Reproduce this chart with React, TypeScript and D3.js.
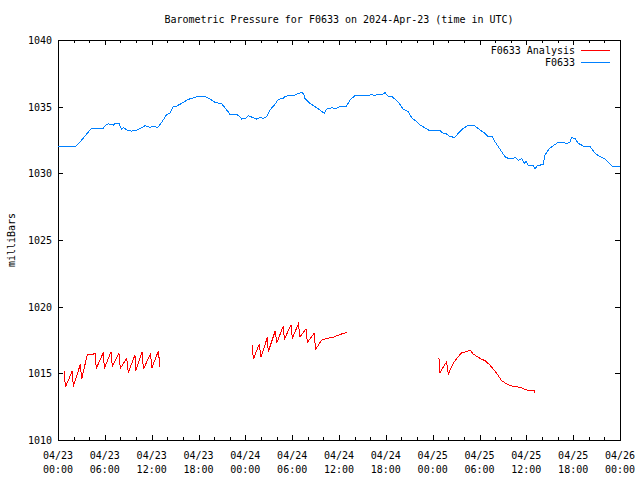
import React, { useEffect, useRef } from "react";
import * as d3 from "d3";

// hours since 2024-04-23 00:00 UTC
const blueHours = [0,2.18,3.04,3.88,4.32,5.8,6.02,6.44,7.08,7.3,7.81,8.16,8.39,8.8,9.44,10.08,10.72,11.15,11.79,12.21,12.77,13.28,13.93,14.35,14.77,15.21,15.85,16.69,17.13,17.97,18.83,19.47,20.11,20.97,21.61,21.82,22.03,23.1,23.53,23.96,24.38,24.81,25.45,25.88,26.3,26.74,27.16,27.8,28.22,28.86,29.08,29.5,30.27,30.58,31.22,31.45,31.64,32.28,32.92,33.56,34.11,34.42,35.06,35.49,36.13,36.98,37.41,38.05,39.75,40.19,40.61,41.03,41.67,41.89,42.24,42.75,43.39,43.81,44.24,44.88,45.31,45.95,46.37,47.01,47.66,48.3,48.94,49.36,49.79,50.22,50.86,51.28,51.92,52.56,53.0,53.42,54.06,54.7,55.13,55.56,55.98,56.62,57.26,57.69,58.33,58.55,58.97,59.4,59.74,59.95,60.25,60.89,61.11,61.37,61.75,62.17,62.39,62.81,63.25,64.09,64.73,65.17,65.59,65.81,66.24,66.66,67.3,68.16,68.38,68.8,69.44,70.08,70.51,70.94,71.58,72.0];
const bluePressure = [1032.03,1031.98,1032.5,1033.1,1033.4,1033.4,1033.57,1033.72,1033.62,1033.75,1033.75,1033.3,1033.45,1033.25,1033.17,1033.25,1033.42,1033.57,1033.45,1033.52,1033.45,1033.82,1034.42,1034.5,1035.0,1035.05,1035.25,1035.55,1035.62,1035.77,1035.75,1035.57,1035.32,1035.22,1034.75,1034.6,1034.42,1034.37,1034.07,1034.1,1034.32,1034.22,1034.07,1034.2,1034.12,1034.25,1034.75,1035.18,1035.55,1035.62,1035.75,1035.83,1035.83,1035.95,1036.07,1035.98,1035.62,1035.25,1035.0,1034.75,1034.5,1034.82,1034.92,1034.85,1035.0,1035.05,1035.5,1035.83,1035.85,1035.9,1035.85,1035.93,1035.95,1036.07,1035.8,1035.78,1035.45,1035.18,1034.8,1034.63,1034.17,1033.87,1033.62,1033.42,1033.17,1033.25,1033.2,1033.0,1032.95,1032.75,1032.7,1033.0,1033.37,1033.6,1033.62,1033.55,1033.25,1033.0,1032.75,1032.8,1032.37,1031.82,1031.25,1031.12,1031.1,1031.2,1030.98,1031.1,1030.75,1030.9,1030.57,1030.6,1030.32,1030.55,1030.62,1030.65,1031.37,1031.75,1032.0,1032.32,1032.32,1032.22,1032.35,1032.67,1032.6,1032.25,1032.05,1032.0,1031.85,1031.5,1031.25,1031.07,1030.82,1030.55,1030.5,1030.5];

// null entries mark gaps between analysis runs
const redHours = [0.81,0.94,1.84,1.96,2.86,3.03,3.76,4.23,4.74,4.91,5.81,5.94,6.79,6.96,7.81,7.98,8.8,9.01,9.86,9.95,10.8,10.93,11.87,12.0,12.85,13.07,null,24.9,25.02,25.79,26.0,26.82,26.94,27.84,28.01,28.87,28.99,29.85,30.02,30.79,31.0,31.77,31.94,32.8,33.01,33.78,34.42,35.27,36.13,37.07,null,48.81,48.94,49.79,50.0,50.64,51.28,51.71,52.35,52.78,53.2,54.06,54.7,55.34,56.2,56.84,57.48,58.12,59.18,60.04,61.02,61.1];
const redPressure = [1015.18,1013.95,1015.2,1014.0,1015.67,1014.55,1016.42,1016.37,1016.5,1015.37,1016.57,1015.37,1016.62,1015.5,1016.5,1015.37,1016.12,1015.07,1016.37,1015.2,1016.62,1015.3,1016.5,1015.37,1016.67,1015.5,null,1017.12,1016.05,1017.2,1016.2,1017.7,1016.62,1018.2,1017.25,1018.55,1017.55,1018.62,1017.62,1018.7,1017.75,1018.32,1017.32,1018.0,1016.8,1017.5,1017.62,1017.7,1017.92,1018.07,null,1016.12,1015.07,1015.87,1014.95,1015.75,1016.25,1016.55,1016.62,1016.75,1016.45,1016.12,1015.95,1015.62,1015.0,1014.45,1014.2,1014.05,1013.95,1013.75,1013.7,1013.57];

const yTicks = [1010, 1015, 1020, 1025, 1030, 1035, 1040];
const xTickHours = [0, 6, 12, 18, 24, 30, 36, 42, 48, 54, 60, 66, 72];
const seriesNames = ["F0633 Analysis", "F0633"];
const seriesColors = ["#ff0000", "#0080ff"];
const title = "Barometric Pressure for F0633 on 2024-Apr-23 (time in UTC)";
const yLabel = "milliBars";

const W = 640, H = 480;
const M = { left: 58, right: 620, top: 40, bottom: 440 };
const FONT = "'DejaVu Sans Mono', monospace";

export default function App() {
  const ref = useRef<SVGSVGElement | null>(null);
  useEffect(() => {
    document.body.style.margin = "0";
    const svg = d3.select(ref.current);
    svg.selectAll("*").remove();
    const t0 = Date.UTC(2024, 3, 23, 0, 0);
    const toDate = (h: number) => new Date(t0 + h * 3600000);
    const x = d3.scaleUtc().domain([toDate(0), toDate(72)]).range([M.left, M.right]);
    const y = d3.scaleLinear().domain([1010, 1040]).range([M.bottom, M.top]);

    svg.append("rect").attr("width", W).attr("height", H).attr("fill", "#fff");

    const g = svg.append("g").attr("shape-rendering", "crispEdges");
    yTicks.forEach((v) => {
      const yy = Math.round(y(v)) + 0.5;
      g.append("line").attr("x1", M.left).attr("x2", M.left + 5).attr("y1", yy).attr("y2", yy).attr("stroke", "#000");
      g.append("line").attr("x1", M.right - 5).attr("x2", M.right).attr("y1", yy).attr("y2", yy).attr("stroke", "#000");
      svg.append("text").attr("x", 52).attr("y", yy).attr("dy", "0.35em").attr("text-anchor", "end")
        .attr("font-family", FONT).attr("font-size", 10).text(String(v));
    });
    const minor = d3.utcHour.every(2)!.range(toDate(0), toDate(72.01));
    minor.forEach((d) => {
      const xx = Math.round(x(d)) + 0.5;
      const isMajor = d.getUTCHours() % 6 === 0;
      const len = isMajor ? 5 : 3;
      g.append("line").attr("x1", xx).attr("x2", xx).attr("y1", M.bottom).attr("y2", M.bottom - len).attr("stroke", "#000");
      g.append("line").attr("x1", xx).attr("x2", xx).attr("y1", M.top).attr("y2", M.top + len).attr("stroke", "#000");
    });
    const fmt1 = d3.utcFormat("%m/%d");
    const fmt2 = d3.utcFormat("%H:%M");
    xTickHours.forEach((h) => {
      const d = toDate(h);
      const xx = x(d);
      const t = svg.append("text").attr("text-anchor", "middle").attr("font-family", FONT).attr("font-size", 10);
      t.append("tspan").attr("x", xx).attr("y", 459).text(fmt1(d));
      t.append("tspan").attr("x", xx).attr("y", 473).text(fmt2(d));
    });
    g.append("rect").attr("x", M.left + 0.5).attr("y", M.top + 0.5)
      .attr("width", M.right - M.left).attr("height", M.bottom - M.top)
      .attr("fill", "none").attr("stroke", "#000");

    svg.append("text").attr("x", 339).attr("y", 23).attr("text-anchor", "middle")
      .attr("font-family", FONT).attr("font-size", 10).text(title);
    svg.append("text").attr("transform", "translate(15,240) rotate(-90)").attr("text-anchor", "middle")
      .attr("font-family", FONT).attr("font-size", 10).text(yLabel);

    const redData = redHours.map((h, i) => ({ h, v: redPressure[i] }));
    const blueData = blueHours.map((h, i) => ({ h, v: bluePressure[i] }));
    const line = d3.line<{ h: number | null; v: number | null }>()
      .defined((d) => d.h != null && d.v != null)
      .x((d) => x(toDate(d.h as number)))
      .y((d) => y(d.v as number));
    svg.append("path").datum(redData).attr("d", line as any).attr("fill", "none")
      .attr("stroke", seriesColors[0]).attr("stroke-width", 1).attr("shape-rendering", "crispEdges");
    svg.append("path").datum(blueData).attr("d", line as any).attr("fill", "none")
      .attr("stroke", seriesColors[1]).attr("stroke-width", 1).attr("shape-rendering", "crispEdges");

    seriesNames.forEach((name, i) => {
      const yy = 50 + i * 12;
      svg.append("text").attr("x", 575).attr("y", yy).attr("dy", "0.35em").attr("text-anchor", "end")
        .attr("font-family", FONT).attr("font-size", 10).text(name);
      svg.append("line").attr("x1", 581).attr("x2", 610).attr("y1", yy + 0.5).attr("y2", yy + 0.5)
        .attr("stroke", seriesColors[i]).attr("shape-rendering", "crispEdges");
    });
  }, []);
  return <svg ref={ref} width={W} height={H} style={{ display: "block" }} />;
}
